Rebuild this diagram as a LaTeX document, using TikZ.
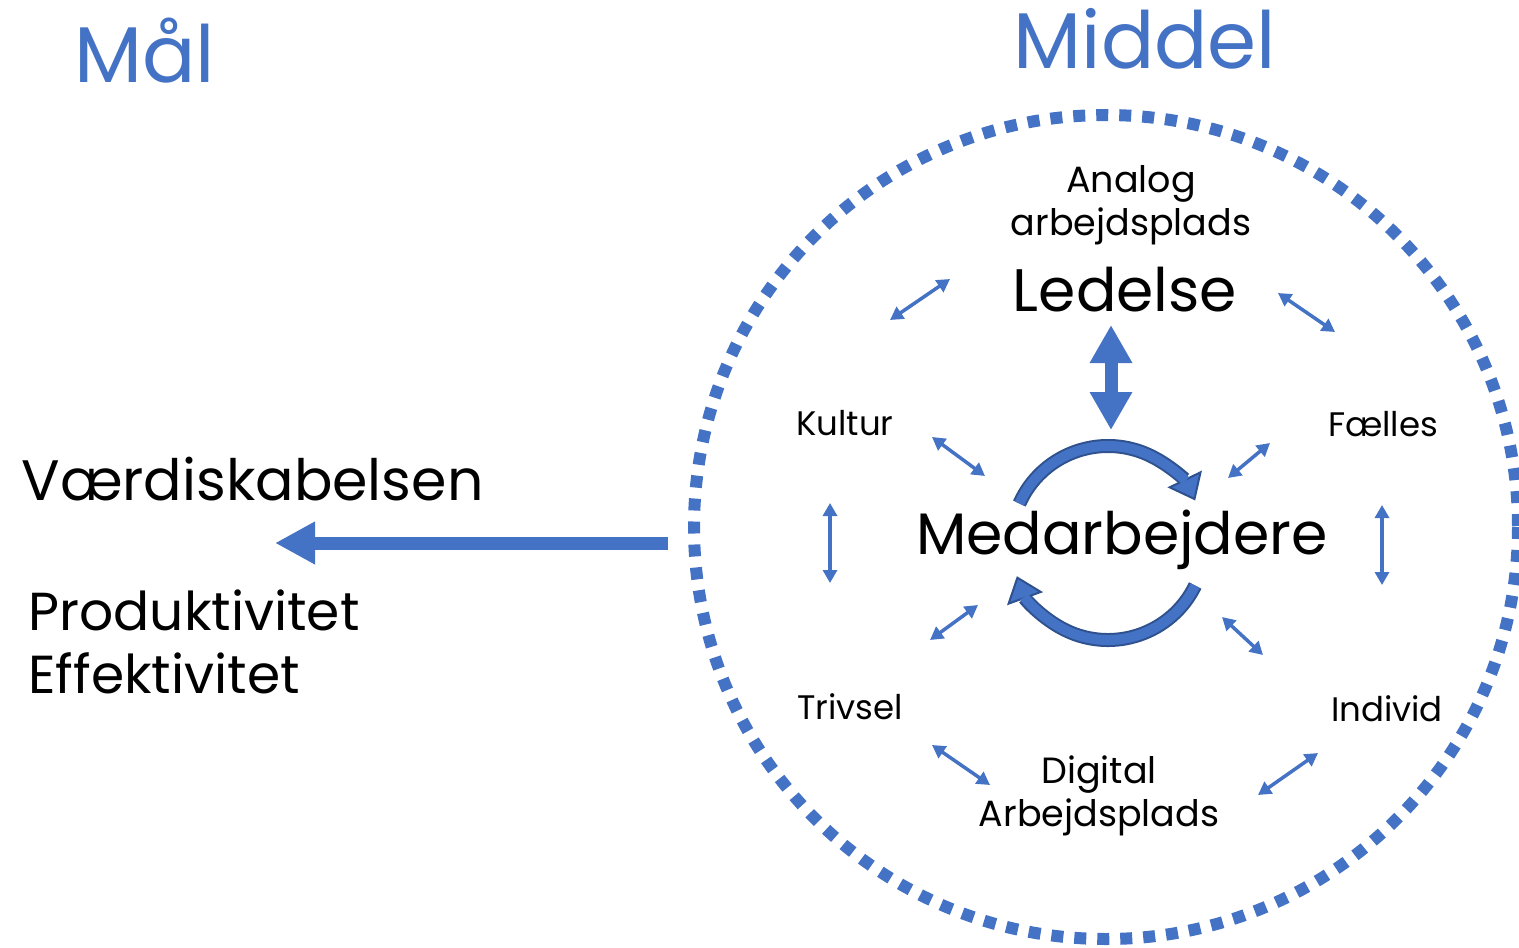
\documentclass[tikz,border=0pt]{standalone}
\usepackage{fontspec}
\setmainfont{Poppins}
\usepackage{tikz}
\usetikzlibrary{arrows.meta}
\definecolor{mblue}{HTML}{4472C4}
\definecolor{mdark}{HTML}{2F528F}

\tikzset{
    title/.style={text=mblue, font=\fontsize{79}{84}\selectfont},
    big/.style={font=\fontsize{57}{63}\selectfont},
    mid/.style={font=\fontsize{36.5}{43}\selectfont, align=center},
    small/.style={font=\fontsize{34}{40}\selectfont},
    link/.style={mblue, line width=3.5pt, {Triangle[width=14pt,length=13pt]}-{Triangle[width=14pt,length=13pt]}},
}

\begin{document}
\begin{tikzpicture}[x=1pt, y=-1pt]
    \useasboundingbox (0,0) rectangle (1519,948);
    % headings
    \node[title] (maal) at (145,51) {Mål};
    \node[title] (middel) at (1145,39) {Middel};
    % left side
    \node[big, anchor=west] (vaerdi) at (18,479) {Værdiskabelsen};
    \node[big, anchor=west, align=left, font=\fontsize{53.5}{63}\selectfont] (prod) at (25,642) {Produktivitet\\Effektivitet};
    % dotted ring
    \coordinate (ring) at (1106,527);
    \draw[mblue, line width=12pt, dash pattern=on 12pt off 11pt] (ring) circle (412);
    % labels in the ring
    \node[mid] (analog) at (1131,205) {Analog\\arbejdsplads};
    \node[big, font=\fontsize{60}{64}\selectfont] (ledelse) at (1125,290) {Ledelse};
    \node[big, font=\fontsize{58.5}{64}\selectfont] (medarb) at (1122,540) {Medarbejdere};
    \node[small] (kultur) at (845,423) {Kultur};
    \node[small] (faelles) at (1383,424) {Fælles};
    \node[small] (trivsel) at (850,707) {Trivsel};
    \node[small] (individ) at (1387,709) {Individ};
    \node[mid] (digital) at (1099,796) {Digital\\Arbejdsplads};
    % main arrow
    \coordinate (pil) at (668,543);
    \draw[mblue, line width=13pt, -{Triangle[width=40pt,length=40pt]}] (pil) -- (275,543);
    % ledelse <-> medarbejdere
    \coordinate (lu) at (1111,325);
    \coordinate (ld) at (1111,430);
    \draw[mblue, line width=13pt, {Triangle[width=40pt,length=38pt]}-{Triangle[width=40pt,length=38pt]}] (lu) -- (ld);
    % small arrows
    \draw[link] (890,320) -- (950,279);
    \draw[link] (1278,293) -- (1335,332);
    \draw[link] (932,437) -- (985,476);
    \draw[link] (1228,478) -- (1270,443);
    \draw[link] (830,503) -- (830,583);
    \draw[link] (1382,505) -- (1382,585);
    \draw[link] (930,640) -- (978,605);
    \draw[link] (1222,617) -- (1263,655);
    \draw[link] (932,745) -- (990,785);
    \draw[link] (1258,795) -- (1318,753);
    % cycle around medarbejdere
    \coordinate (hjul) at (1108,543);
    \draw[mdark, line width=14pt, -{Triangle[width=38pt,length=24pt,fill=mblue,line width=2pt]}]
        ([shift={(204:97)}]hjul) arc[start angle=204, end angle=334, radius=97];
    \draw[mblue, line width=10pt, shorten >=22pt]
        ([shift={(204:97)}]hjul) arc[start angle=204, end angle=334, radius=97];
    \draw[mdark, line width=14pt, -{Triangle[width=38pt,length=24pt,fill=mblue,line width=2pt]}]
        ([shift={(26:97)}]hjul) arc[start angle=26, end angle=160, radius=97];
    \draw[mblue, line width=10pt, shorten >=22pt]
        ([shift={(26:97)}]hjul) arc[start angle=26, end angle=160, radius=97];
\end{tikzpicture}
\end{document}
